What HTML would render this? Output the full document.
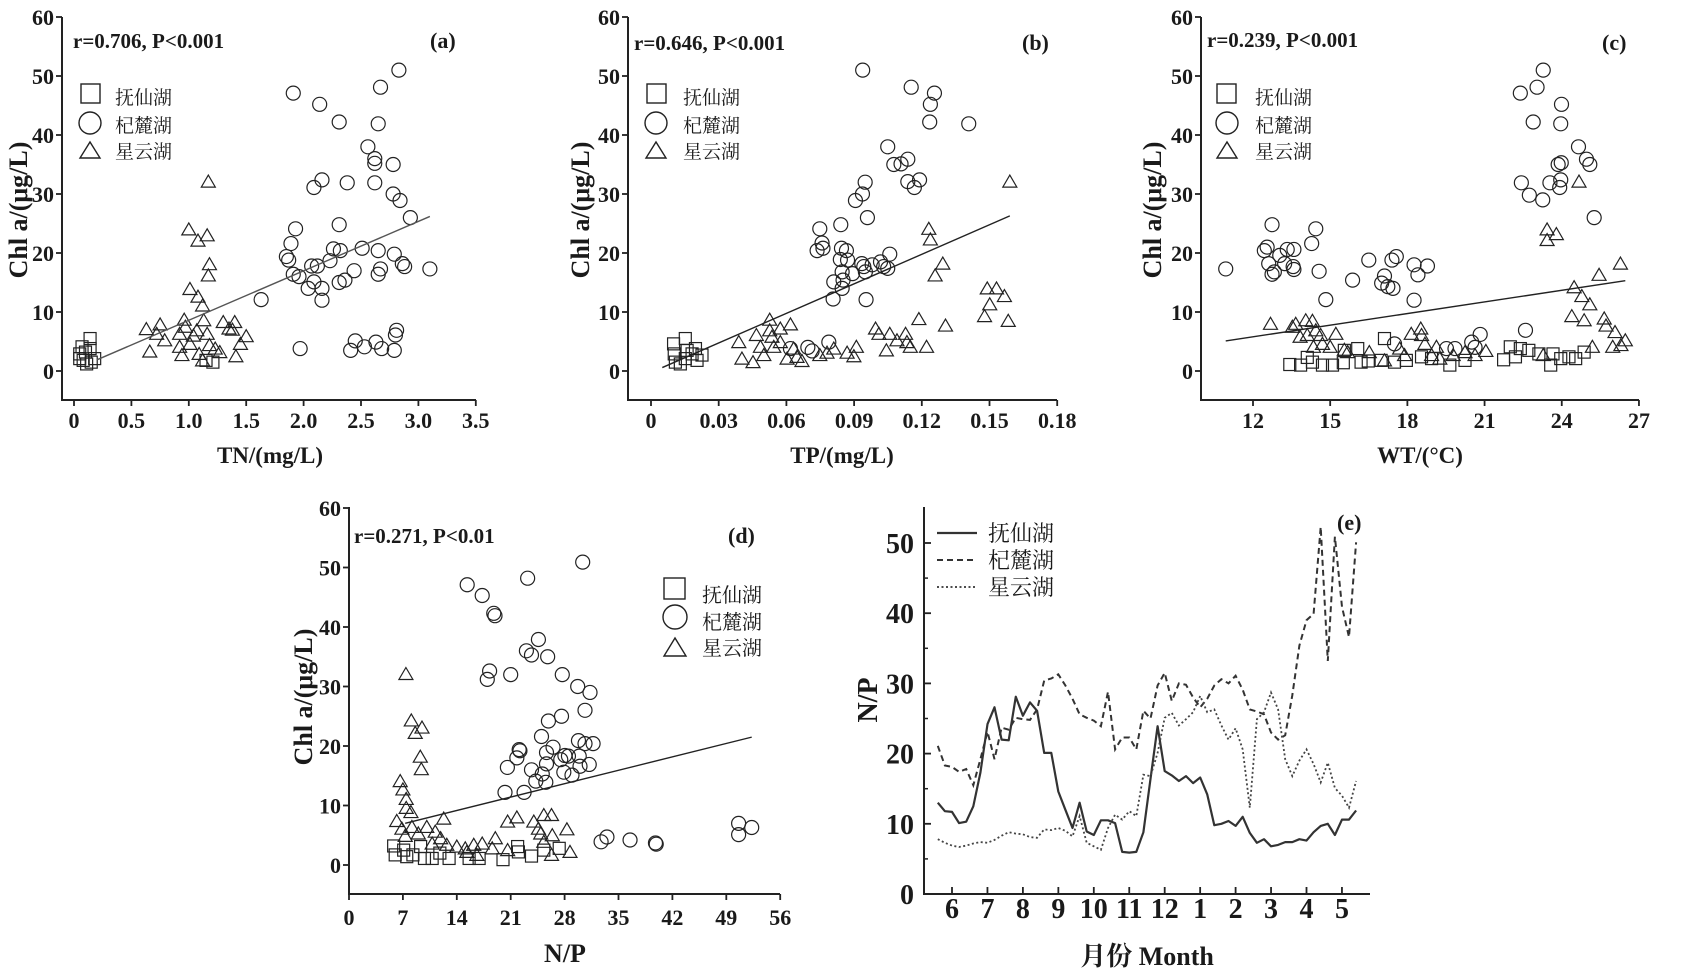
<!DOCTYPE html>
<html><head><meta charset="utf-8">
<style>
html,body{margin:0;padding:0;background:#fff;}
svg{display:block;}
.t{font-family:"Liberation Serif","Noto Serif CJK SC",serif;font-weight:bold;fill:#1a1a1a;}
.cn{font-family:"Liberation Serif","Noto Serif CJK SC",serif;fill:#1a1a1a;}
</style></head>
<body>
<div>
<svg id="fig" width="1697" height="976" viewBox="0 0 1697 976">
<!-- panel a texts -->
<text class="t" font-size="26" text-anchor="middle" transform="translate(27,210) rotate(-90)">Chl a/(μg/L)</text>
<text class="t" font-size="23" x="270" y="463" text-anchor="middle">TN/(mg/L)</text>
<text class="t" font-size="21" x="73" y="48">r=0.706, P&lt;0.001</text>
<text class="t" font-size="22" x="430" y="48">(a)</text>
<g fill="none" stroke="#222" stroke-width="1.4">
<rect x="81" y="84" width="19" height="19"/>
<circle cx="90" cy="123" r="11"/>
<polygon points="80,158 100,158 90,142"/>
</g>
<text class="cn" font-size="19" x="115" y="104">抚仙湖</text>
<text class="cn" font-size="19" x="115" y="132">杞麓湖</text>
<text class="cn" font-size="19" x="115" y="158">星云湖</text>

<!-- panel b texts -->
<text class="t" font-size="26" text-anchor="middle" transform="translate(589,210) rotate(-90)">Chl a/(μg/L)</text>
<text class="t" font-size="23" x="842" y="463" text-anchor="middle">TP/(mg/L)</text>
<text class="t" font-size="21" x="634" y="50">r=0.646, P&lt;0.001</text>
<text class="t" font-size="22" x="1022" y="50">(b)</text>
<g fill="none" stroke="#222" stroke-width="1.4">
<rect x="647" y="84" width="19" height="19"/>
<circle cx="656" cy="123" r="11"/>
<polygon points="646,158 666,158 656,142"/>
</g>
<text class="cn" font-size="19" x="683" y="104">抚仙湖</text>
<text class="cn" font-size="19" x="683" y="132">杞麓湖</text>
<text class="cn" font-size="19" x="683" y="158">星云湖</text>

<!-- panel c texts -->
<text class="t" font-size="26" text-anchor="middle" transform="translate(1161,210) rotate(-90)">Chl a/(μg/L)</text>
<text class="t" font-size="23" x="1420" y="463" text-anchor="middle">WT/(°C)</text>
<text class="t" font-size="21" x="1207" y="47">r=0.239, P&lt;0.001</text>
<text class="t" font-size="22" x="1602" y="50">(c)</text>
<g fill="none" stroke="#222" stroke-width="1.4">
<rect x="1217" y="84" width="19" height="19"/>
<circle cx="1227" cy="123" r="11"/>
<polygon points="1217,158 1237,158 1227,142"/>
</g>
<text class="cn" font-size="19" x="1255" y="104">抚仙湖</text>
<text class="cn" font-size="19" x="1255" y="132">杞麓湖</text>
<text class="cn" font-size="19" x="1255" y="158">星云湖</text>

<!-- panel d texts -->
<text class="t" font-size="26" text-anchor="middle" transform="translate(312,697) rotate(-90)">Chl a/(μg/L)</text>
<text class="t" font-size="26" x="565" y="962" text-anchor="middle">N/P</text>
<text class="t" font-size="21" x="354" y="543">r=0.271, P&lt;0.01</text>
<text class="t" font-size="22" x="728" y="543">(d)</text>
<g fill="none" stroke="#222" stroke-width="1.4">
<rect x="664" y="578" width="21" height="21"/>
<circle cx="675" cy="617" r="12"/>
<polygon points="664,656 686,656 675,638"/>
</g>
<text class="cn" font-size="20" x="702" y="602">抚仙湖</text>
<text class="cn" font-size="20" x="702" y="629">杞麓湖</text>
<text class="cn" font-size="20" x="702" y="655">星云湖</text>

<!-- panel e texts -->
<text class="t" font-size="28" text-anchor="middle" transform="translate(877,700) rotate(-90)">N/P</text>
<text class="t" font-size="26" x="1147" y="965" text-anchor="middle">月份 Month</text>
<text class="t" font-size="22" x="1337" y="530">(e)</text>
<g fill="none" stroke="#333">
<line x1="937" y1="533" x2="977" y2="533" stroke-width="2.2"/>
<line x1="937" y1="560" x2="977" y2="560" stroke-width="2" stroke-dasharray="6,4"/>
<line x1="937" y1="587" x2="977" y2="587" stroke-width="1.8" stroke-dasharray="2,2.5"/>
</g>
<text class="cn" font-size="22" x="988" y="541">抚仙湖</text>
<text class="cn" font-size="22" x="988" y="568">杞麓湖</text>
<text class="cn" font-size="22" x="988" y="595">星云湖</text>
<g id="dyn"></g>
</svg>
</div>
<script>
// ---------- data: panel a (TN) ----------
const aSqX=[0.05,0.07,0.08,0.14,0.14,0.15,0.18,0.10,0.11,0.05,1.15,1.21];
const aSqY=[2.9,4.1,1.8,5.5,3.8,1.5,2.1,3.2,1.2,2.1,1.8,1.5];
const aCiX=[1.91,2.14,2.31,2.67,2.83,2.65,2.56,2.62,2.62,2.78,2.38,2.16,2.09,2.62,2.78,2.84,2.93,2.31,1.93,1.89,1.85,1.87,2.26,2.32,2.51,2.65,2.79,2.23,2.07,2.12,2.86,2.88,3.10,2.67,2.65,2.44,1.91,1.96,2.09,2.36,2.31,2.04,2.16,2.16,1.63,1.97,2.41,2.45,2.53,2.63,2.68,2.79,2.81,2.80];
const aCiY=[47.1,45.2,42.2,48.1,51,41.9,38,36,35.2,35,31.9,32.4,31.1,31.9,30,28.9,26,24.8,24.1,21.6,19.4,18.8,20.7,20.4,20.8,20.4,19.8,18.7,17.8,17.8,18.2,17.7,17.3,17.3,16.4,17,16.4,16,15.1,15.4,15,14,14,12,12.1,3.8,3.5,5.1,4.1,4.9,3.8,3.5,6.9,6.1];
const aTrX=[1.17,1.0,1.08,1.16,1.18,1.17,1.01,1.08,1.12,1.13,0.96,0.63,0.75,0.72,0.79,0.66,0.92,0.97,0.92,0.94,1.01,1.07,1.09,1.12,1.16,1.18,1.23,1.27,1.30,1.35,1.40,1.38,1.50,1.45,1.41,1.04];
const aTrY=[32.1,24,22.1,23,18.1,16.2,13.9,12.6,11.1,8.6,8.7,7.1,7.9,6.3,5.2,3.3,6.3,7.5,4.1,2.7,4.6,6.9,2.9,1.8,6.3,4.4,3.8,3.2,8.3,7.2,8.3,7,5.9,4.6,2.5,6];
const aFit=[0.22,8.38];
const aFitRange=[0.2,3.1];
const aXTickVals=[0,0.5,1,1.5,2,2.5,3,3.5];
const aXTickLabels=['0','0.5','1.0','1.5','2.0','2.5','3.0','3.5'];
// ---------- data: panel b (TP) ----------
const bSqX=[0.01,0.0103,0.0108,0.0152,0.016,0.0152,0.0197,0.0204,0.0226,0.013,0.0182];
const bSqY=[4.6,2.9,1.5,5.5,3.5,2.1,3.8,1.8,2.7,1.2,2.9];
const bCiX=[0.0938,0.1153,0.1256,0.1238,0.1235,0.1408,0.1049,0.1138,0.1076,0.1108,0.1138,0.119,0.1167,0.0949,0.0937,0.0906,0.0959,0.0748,0.0841,0.0758,0.0736,0.0762,0.0844,0.0866,0.0839,0.0871,0.1058,0.0934,0.0943,0.098,0.1017,0.1031,0.1049,0.0847,0.0893,0.095,0.081,0.0851,0.0847,0.0807,0.0953,0.0695,0.0714,0.0788,0.0618];
const bCiY=[51,48.1,47.1,45.2,42.2,41.9,38,35.9,35,35.1,32.1,32.4,31.1,32,30,28.9,26,24.1,24.8,21.7,20.4,20.8,20.8,20.4,18.9,18.8,19.8,18.2,17.7,18,18.5,17.7,17.4,16.8,16.5,16.8,15.1,15.4,14,12.2,12.1,4,3.4,4.9,3.8];
const bTrX=[0.159,0.1231,0.1238,0.1293,0.1259,0.149,0.1531,0.1566,0.1501,0.1478,0.1583,0.1187,0.1305,0.0995,0.101,0.1058,0.1128,0.109,0.1134,0.1149,0.1043,0.1221,0.091,0.0869,0.0899,0.081,0.078,0.0748,0.0526,0.0618,0.0573,0.0526,0.0536,0.0467,0.0485,0.0389,0.0403,0.0452,0.05,0.0544,0.0573,0.0603,0.0632,0.0669,0.0647];
const bTrY=[32.1,24.1,22.3,18.2,16.2,14,14,12.7,11.3,9.3,8.5,8.8,7.7,7.2,6.3,6.3,6.3,5.2,4.9,4.1,3.5,4.1,4.1,3.1,2.5,3.8,3.1,2.7,8.7,7.9,7.2,6.9,5.8,6.1,4.1,4.9,2.1,1.5,2.7,4.1,4.9,2.1,3.8,1.7,2.4];
const bFit=[-0.25,166.9];
const bFitRange=[0.005,0.159];
const bXTickVals=[0,0.03,0.06,0.09,0.12,0.15,0.18];
const bXTickLabels=['0','0.03','0.06','0.09','0.12','0.15','0.18'];
// ---------- data: panel c (WT) ----------
const cSqX=[13.43,13.85,14.11,14.31,14.7,15.09,15.51,15.55,16.07,16.2,16.48,17.11,16.98,17.5,17.96,18.55,18.94,19.65,20.24,21.74,22.0,22.2,22.39,22.72,23.11,23.66,23.57,23.96,24.28,24.54,24.87];
const cSqY=[1.1,1,2.3,1.5,1,1,1.4,3.5,3.8,1.5,1.7,5.5,1.8,1.5,1.8,2.4,2.1,1,1.8,1.9,4.1,2.4,3.8,3.5,2.9,2.9,1,2.1,2.4,2.1,3.2];
const cCiX=[10.94,12.74,12.44,12.55,12.61,12.74,12.83,13.04,13.33,13.59,13.23,13.56,13.59,14.28,14.44,14.57,14.83,15.87,16.5,17.0,17.11,17.24,17.44,17.4,17.57,18.26,18.41,18.78,18.26,17.5,19.52,19.85,20.5,20.63,20.83,22.59,22.39,23.04,23.28,22.89,23.99,23.96,24.65,24.96,25.09,23.86,23.98,22.43,22.74,23.26,23.54,23.96,23.92,25.26];
const cCiY=[17.3,24.8,20.4,21,18.2,16.4,16.8,19.6,20.6,20.6,18.2,17.7,17.2,21.6,24.1,16.9,12.1,15.4,18.8,14.9,16.1,14.3,14,18.8,19.4,18,16.3,17.8,12,4.6,3.8,3.8,4.9,4,6.2,6.9,47.1,48.1,51,42.2,45.2,41.9,38,35.9,35,35,35.3,31.9,29.8,29,31.9,32.4,31.1,26];
const cTrX=[24.67,23.43,23.43,23.79,26.28,25.45,24.48,24.78,25.09,24.39,24.87,25.65,25.72,26.07,26.47,26.3,25.98,25.19,23.28,12.68,13.66,13.53,14.05,14.31,13.83,14.11,14.44,14.63,14.35,14.7,15.22,15.0,15.55,15.68,16.52,17.11,17.7,17.89,18.15,18.52,18.55,18.68,18.94,19.13,19.26,19.78,20.24,20.63,21.05];
const cTrY=[32.1,24,22.2,23.2,18.2,16.3,14.2,12.7,11.3,9.3,8.6,8.9,7.7,6.6,5.2,4.4,4.1,4.1,2.7,8,8,7.5,8.6,8.5,5.8,6.1,6.9,6.1,4.1,4.6,6.3,4.1,3.6,3.2,3.2,1.8,3.8,2.7,6.3,7.2,6.1,4.6,2.7,4.1,2.1,2.7,3.2,2.7,3.4];
const cFit=[-2.09,0.657];
const cFitRange=[10.94,26.47];
const cXTickVals=[12,15,18,21,24,27];
const cXTickLabels=['12','15','18','21','24','27'];
// ---------- data: panel d (N/P) ----------
const dSqX=[5.8,6,7.1,7.5,8.3,9.3,9.8,10.8,11.8,13,15.6,16.9,20,21.9,22,23.7,25.3,27.3];
const dSqY=[3.2,1.7,2.5,1.4,1.7,3.1,1.1,1.1,2,1.1,1.1,1.1,0.9,3.1,2.2,1.5,2.5,2.8];
const dCiX=[30.35,15.35,17.3,23.2,18.8,18.96,24.6,23.04,23.7,25.8,18.26,17.96,21,27.7,29.7,31.3,30.65,25.9,27.6,25,29.8,30.65,31.7,22.1,22.2,21.8,26.5,25.65,28.04,28.5,29.9,27.5,25.65,31.2,30,20.57,23.7,27.9,25.1,28.96,24.26,25.56,20.26,22.74,32.74,33.5,36.5,39.8,39.9,50.6,50.6,52.3];
const dCiY=[50.9,47.1,45.3,48.2,42.3,41.9,37.9,36,35.3,35,32.6,31.2,32,32,30,29,26,24.2,25,21.6,20.9,20.4,20.4,19.4,19.2,18,19.8,18.9,18.4,18.3,18.3,17.7,17,16.9,16.6,16.4,16,15.6,15.3,15.1,14.1,13.9,12.2,12.2,3.9,4.7,4.2,3.7,3.5,7,5.1,6.3];
const dTrX=[7.39,8.09,9.48,8.6,9.26,9.39,6.65,7,7.43,8.04,7.43,6.2,6.87,7.3,8.17,10.1,9,11.2,11.9,12.3,10.8,12.7,14,15.1,16.2,17.3,19,18.6,20.6,20.6,21.8,24,24.6,25.3,26.3,24.9,26.4,25.3,28.3,28.7,26.3,15.3,16.6];
const dTrY=[32.1,24.3,23.1,22.2,18.2,16.1,14.1,12.7,11.1,8.9,9.6,7.4,6.1,4.9,6.4,6.4,5.3,5.6,4.5,7.8,3.6,3.4,3.1,2.8,3.4,3.6,4.5,2.8,2.5,7.3,8,7.3,6.1,8.4,8.4,5.3,5,3.9,6,2.2,1.7,2.2,1.7];
const dFit=[4.65,0.322];
const dFitRange=[7.3,52.3];
const dXTickVals=[0,7,14,21,28,35,42,49,56];
const dXTickLabels=['0','7','14','21','28','35','42','49','56'];
// shared y ticks for scatter panels
const chlTickVals=[0,10,20,30,40,50,60];
const chlTickLabels=['0','10','20','30','40','50','60'];
// ---------- data: panel e (N/P time series) ----------
const eMonthLabels=['6','7','8','9','10','11','12','1','2','3','4','5'];
const eTime=[-0.4,-0.2,0,0.2,0.4,0.6,0.8,1.0,1.2,1.4,1.6,1.8,2.0,2.2,2.4,2.6,2.8,3.0,3.2,3.4,3.6,3.8,4.0,4.2,4.4,4.6,4.8,5.0,5.2,5.4,5.6,5.8,6.0,6.2,6.4,6.6,6.8,7.0,7.2,7.4,7.6,7.8,8.0,8.2,8.4,8.6,8.8,9.0,9.2,9.4,9.6,9.8,10.0,10.2,10.4,10.6,10.8,11.0,11.2,11.4];
const eFuxian=[13.0,11.8,11.7,10.1,10.3,12.5,17.3,24.2,26.6,22.0,21.9,28.1,25.4,27.3,26.1,20.1,20.1,14.6,12.0,9.4,13.0,8.9,8.4,10.5,10.5,10.1,6.0,5.9,6.0,8.8,16.4,23.9,17.5,16.9,16.1,16.8,15.8,16.6,14.2,9.8,10.0,10.4,9.7,11.0,8.7,7.3,7.8,6.8,7.0,7.4,7.4,7.8,7.6,8.8,9.7,10.0,8.4,10.6,10.6,11.9];
const eQilu=[21.1,18.3,18.1,17.4,17.8,15.5,19.2,23.1,19.2,23.7,23.4,25.1,24.9,24.8,26.3,30.4,30.7,31.3,29.7,27.8,25.6,25.1,24.7,23.9,28.8,20.6,22.3,22.3,20.6,26.1,25.0,29.7,31.5,27.5,30.0,29.8,28.0,26.6,27.8,29.7,30.6,30.0,31.1,29.1,26.3,26.0,25.6,23.0,22.0,22.6,28.3,35.4,39.0,39.9,52.3,33.2,50.9,40.9,36.6,50.1];
const eXingyun=[7.8,7.3,6.9,6.7,6.9,7.2,7.4,7.3,7.7,8.3,8.8,8.6,8.5,8.1,8.0,9.2,9.1,9.4,9.0,8.2,11.1,7.3,6.8,6.3,9.4,11.3,10.6,11.8,11.1,17.0,16.8,20.1,25.1,25.8,24.0,24.9,25.9,28.2,25.9,26.3,24.0,22.0,23.6,20.6,12.3,24.9,25.9,28.7,26.3,19.2,16.8,19.0,20.6,18.5,15.9,18.7,15.1,14.0,12.3,16.1];
const eYTickVals=[0,10,20,30,40,50];
const eYTickLabels=['0','10','20','30','40','50'];
const eYMinorVals=[5,15,25,35,45];

const NS='http://www.w3.org/2000/svg';
const root=document.getElementById('dyn');
function mk(tag,parent,at){const e=document.createElementNS(NS,tag);for(const k in at)e.setAttribute(k,at[k]);parent.appendChild(e);return e;}
const INK='#222';

function drawScatter(P,sqX,sqY,ciX,ciY,trX,trY,fit,fitR,xtv,xtl,lineColor){
  const sx=v=>P.x0+(v-P.xv0)*P.xk;
  const sy=v=>P.y0-v*P.yk;
  const g=mk('g',root,{});
  
  
  const ax=mk('path',g,{d:`M${P.L},${P.T}V${P.B}H${P.R}`,fill:'none',stroke:INK,'stroke-width':2});
  
  
  for(let i=0;i<chlTickVals.length;i++){
    const y=sy(chlTickVals[i]);
    const tk=mk('line',g,{x1:P.L-6,x2:P.L,y1:y,y2:y,stroke:INK,'stroke-width':1.8});
    
    
    const tl=mk('text',g,{x:P.L-8,y:y+8,'text-anchor':'end','font-size':22,class:'t'});
    tl.textContent=chlTickLabels[i];
    
    
  }
  for(let i=0;i<xtv.length;i++){
    const x=sx(xtv[i]);
    const tk=mk('line',g,{x1:x,x2:x,y1:P.B,y2:P.B+6,stroke:INK,'stroke-width':1.8});
    
    
    const tl=mk('text',g,{x:x,y:P.xlY,'text-anchor':'middle','font-size':22,class:'t'});
    tl.textContent=xtl[i];
    
    
  }
  const mg=mk('g',g,{fill:'none',stroke:INK,'stroke-width':1.2});
  for(let i=0;i<sqX.length;i++){
    const x=sx(sqX[i]),y=sy(sqY[i]);
    const m=mk('rect',mg,{x:x-6,y:y-6,width:12,height:12});
    
    
  }
  for(let i=0;i<ciX.length;i++){
    const m=mk('circle',mg,{cx:sx(ciX[i]),cy:sy(ciY[i]),r:7});
    
    
  }
  for(let i=0;i<trX.length;i++){
    const x=sx(trX[i]),y=sy(trY[i]);
    const m=mk('polygon',mg,{points:`${x-7},${y+5.5} ${x+7},${y+5.5} ${x},${y-6.5}`});
    
    
  }
  const fl=mk('line',g,{x1:sx(fitR[0]),y1:sy(fit[0]+fit[1]*fitR[0]),x2:sx(fitR[1]),y2:sy(fit[0]+fit[1]*fitR[1]),stroke:lineColor,'stroke-width':1.4});
  
  
}

drawScatter({L:62,R:476,T:17,B:400,x0:74,xv0:0,xk:114.8,y0:371,yk:5.9,xlY:428},aSqX,aSqY,aCiX,aCiY,aTrX,aTrY,aFit,aFitRange,aXTickVals,aXTickLabels,'#555');
drawScatter({L:628,R:1057,T:17,B:400,x0:651,xv0:0,xk:2256.7,y0:371,yk:5.9,xlY:428},bSqX,bSqY,bCiX,bCiY,bTrX,bTrY,bFit,bFitRange,bXTickVals,bXTickLabels,'#222');
drawScatter({L:1201,R:1639,T:17,B:400,x0:1253,xv0:12,xk:25.73,y0:371,yk:5.9,xlY:428},cSqX,cSqY,cCiX,cCiY,cTrX,cTrY,cFit,cFitRange,cXTickVals,cXTickLabels,'#222');
drawScatter({L:349,R:780,T:507,B:894,x0:349,xv0:0,xk:7.7,y0:865,yk:5.95,xlY:925},dSqX,dSqY,dCiX,dCiY,dTrX,dTrY,dFit,dFitRange,dXTickVals,dXTickLabels,'#222');

// ---------- panel e ----------
(function(){
  const L=924,R=1370,T=507,B=894;
  const sx=t=>952+t*35.45;
  const sy=v=>894-v*7.02;
  const g=mk('g',root,{});
  
  
  const ax=mk('path',g,{d:`M${L},${T}V${B}H${R}`,fill:'none',stroke:INK,'stroke-width':2});
  
  
  for(let i=0;i<eYTickVals.length;i++){
    const y=sy(eYTickVals[i]);
    const tk=mk('line',g,{x1:L,x2:L+7,y1:y,y2:y,stroke:INK,'stroke-width':1.8});
    
    
    const tl=mk('text',g,{x:L-10,y:y+10,'text-anchor':'end','font-size':28,class:'t'});
    tl.textContent=eYTickLabels[i];
    
    
  }
  for(let i=0;i<eYMinorVals.length;i++){
    const y=sy(eYMinorVals[i]);
    const tk=mk('line',g,{x1:L,x2:L+4,y1:y,y2:y,stroke:INK,'stroke-width':1.5});
    
    
  }
  for(let i=0;i<eMonthLabels.length;i++){
    const x=sx(i);
    const tk=mk('line',g,{x1:x,x2:x,y1:B,y2:B-7,stroke:INK,'stroke-width':1.8});
    
    
    const tl=mk('text',g,{x:x,y:918,'text-anchor':'middle','font-size':28,class:'t'});
    tl.textContent=eMonthLabels[i];
    
    
  }
  const pts=arr=>arr.map((v,i)=>`${sx(eTime[i]).toFixed(1)},${sy(v).toFixed(1)}`).join(' ');
  const l1=mk('polyline',g,{points:pts(eFuxian),fill:'none',stroke:'#333','stroke-width':2.2,'stroke-linejoin':'round'});
  
  
  const l2=mk('polyline',g,{points:pts(eQilu),fill:'none',stroke:'#333','stroke-width':2,'stroke-dasharray':'6,4'});
  
  
  const l3=mk('polyline',g,{points:pts(eXingyun),fill:'none',stroke:'#444','stroke-width':1.8,'stroke-dasharray':'2,2.5'});
  
  
})();
</script>
</body></html>
